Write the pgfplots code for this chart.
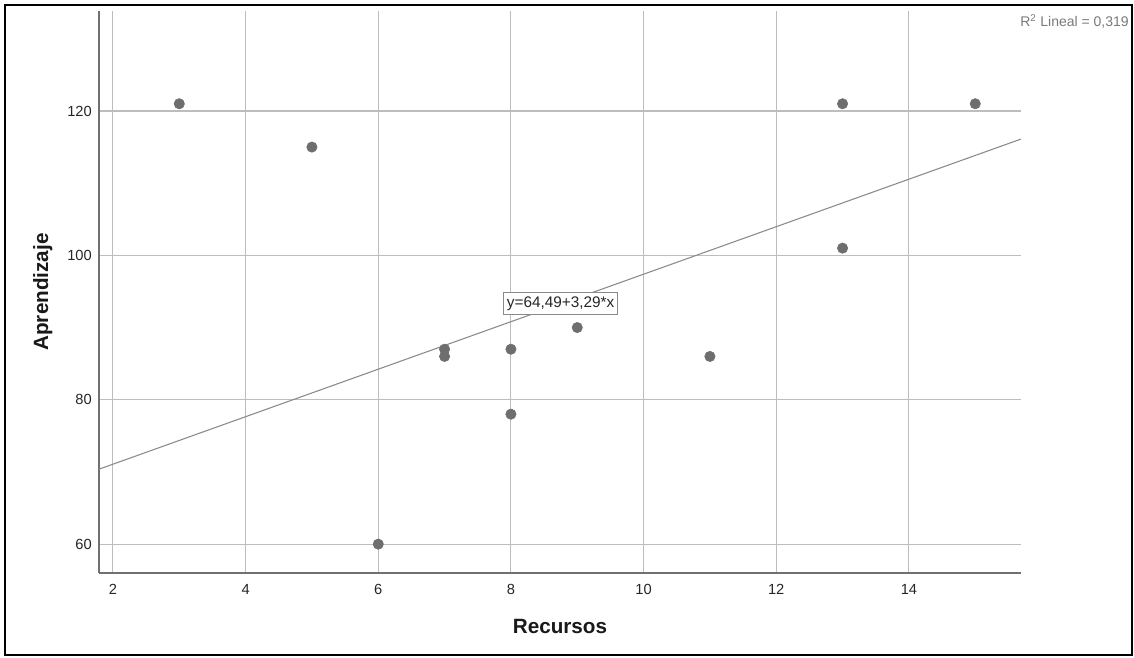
\documentclass[border=0pt]{standalone}
\usepackage{fontspec}
\setmainfont{Liberation Sans}
\usepackage{pgfplots}
\pgfplotsset{compat=1.18}
\definecolor{gridgray}{HTML}{BDBDBD}
\definecolor{axisgray}{HTML}{707070}
\definecolor{dotgray}{HTML}{6E6E6E}
\definecolor{linegray}{HTML}{8A8A8A}
\definecolor{txtgray}{HTML}{7A7A7A}
\begin{document}
\begin{tikzpicture}
\useasboundingbox (-74.25pt,-63pt) rectangle (776.25pt,429.75pt);
\fill[white] (-74.25pt,-63pt) rectangle (776.25pt,429.75pt);
\draw[line width=1.5pt, black] (-70.5pt,-61.5pt) rectangle (774.75pt,426pt);
\begin{axis}[
  scale only axis,
  width=691.5pt, height=421.5pt,
  xmin=1.79, xmax=15.69, ymin=56, ymax=133.85,
  axis lines=left,
  axis line style={-, draw=axisgray, line width=1pt},
  xtick={2,4,...,14}, ytick={60,80,...,120},
  /pgf/number format/assume math mode=true,
  major tick length=0pt,
  tick style={draw=none},
  grid=major,
  grid style={draw=gridgray, line width=0.8pt},
  tick label style={font=\fontsize{11}{13}\selectfont, text=black!85},
  xticklabel style={anchor=base, inner sep=0pt, yshift=-15.75pt},
  yticklabel style={anchor=east, inner sep=0pt, xshift=-5.25pt},
  xlabel={Recursos},
  ylabel={Aprendizaje},
  label style={font=\fontsize{15.5}{18}\selectfont\bfseries, text=black!90},
  xlabel style={at={(axis description cs:0.5,-0.1085)}, anchor=base},
  ylabel style={at={(axis description cs:-0.0553,0.5)}, anchor=base, rotate=0},
  clip=true,
]
\addplot[draw=linegray, line width=0.8pt] coordinates {(1.79,70.38) (15.69,116.11)};
\addplot[only marks, mark=*, mark size=3.9pt, mark options={draw=dotgray, fill=dotgray}] table {
x y
3 121
5 115
6 60
7 87
7 86
8 87
8 78
9 90
11 86
13 121
13 101
15 121
};
\node[draw=linegray, fill=white, line width=0.8pt, inner xsep=2.5pt, inner ysep=3pt, font=\fontsize{11.5}{13}\selectfont, text=black!85] at (axis cs:8.75,93.28) {y=64,49+3,29*x};
\end{axis}
\node[anchor=base east, inner sep=0pt, text=txtgray, font=\fontsize{10.5}{12}\selectfont] at (772.5pt,409.5pt) {R\textsuperscript{2} Lineal = 0,319};
\end{tikzpicture}
\end{document}
